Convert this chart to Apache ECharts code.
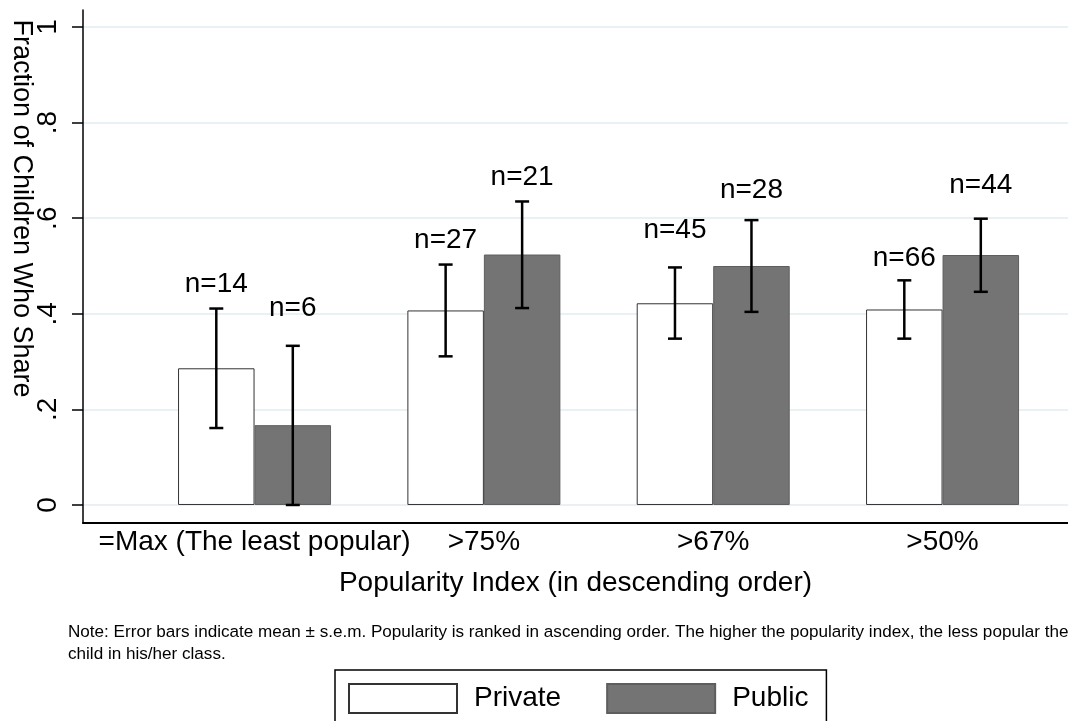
<!DOCTYPE html>
<html>
<head>
<meta charset="utf-8">
<title>Fraction of Children Who Share</title>
<script src="https://cdn.jsdelivr.net/npm/echarts@6/dist/echarts.min.js"></script>
<style>
  html, body { margin: 0; padding: 0; background: #ffffff; }
  #chart { width: 1068px; height: 721px; }
</style>
</head>
<body>
<div id="chart"></div>
<script>
// Popularity groups along the x axis
const categories = ['=Max (The least popular)', '>75%', '>67%', '>50%'];
const groupPos = [1, 2, 3, 4];

// Private school: mean share and mean ± s.e.m.
const privateMean = [0.286, 0.407, 0.422, 0.409];
const privateLow  = [0.161, 0.311, 0.348, 0.348];
const privateHigh = [0.411, 0.503, 0.497, 0.470];
const privateN    = [14, 27, 45, 66];

// Public school: mean share and mean ± s.e.m.
const publicMean = [0.167, 0.524, 0.500, 0.523];
const publicLow  = [0.000, 0.412, 0.404, 0.446];
const publicHigh = [0.333, 0.635, 0.596, 0.599];
const publicN    = [6, 21, 28, 44];

// Y axis ticks
const yTickValues = [0, 0.2, 0.4, 0.6, 0.8, 1];
const yTickLabels = ['0', '.2', '.4', '.6', '.8', '1'];

const noteText = 'Note: Error bars indicate mean \u00b1 s.e.m. Popularity is ranked in ascending order. The higher the popularity index, the less popular the\nchild in his/her class.';

const FONT = "'Liberation Sans', Arial, Helvetica, sans-serif";
const BAR_W = 76.5;
// extra lift (px) for the sample-size labels that sit higher above their caps
const privateLabelLift = [0, 0, 13, -2];
const publicLabelLift  = [14, 0, 6, 9];

function pairs(xs, ys) { return xs.map((x, i) => [x, ys[i]]); }
function errRows(xs, lo, hi, n) { return xs.map((x, i) => [x, lo[i], hi[i], n[i]]); }

function errorBarRenderer(offset, lift) {
  return function (params, api) {
    const x = api.value(0);
    const top = api.coord([x, api.value(2)]);
    const bot = api.coord([x, api.value(1)]);
    const cx = top[0] + offset;
    const cap = 7;
    const line = { stroke: '#000000', lineWidth: 2.5 };
    return {
      type: 'group',
      children: [
        { type: 'line', shape: { x1: cx, y1: top[1], x2: cx, y2: bot[1] }, style: line },
        { type: 'line', shape: { x1: cx - cap, y1: top[1], x2: cx + cap, y2: top[1] }, style: line },
        { type: 'line', shape: { x1: cx - cap, y1: bot[1], x2: cx + cap, y2: bot[1] }, style: line },
        {
          type: 'text',
          style: {
            text: 'n=' + api.value(3),
            x: cx, y: top[1] - 10 - lift[params.dataIndex],
            align: 'center', verticalAlign: 'bottom',
            fontSize: 28, fontFamily: FONT, fill: '#000000'
          }
        }
      ]
    };
  };
}

const chart = echarts.init(document.getElementById('chart'), null, { renderer: 'canvas' });

chart.setOption({
  backgroundColor: '#ffffff',
  animation: false,
  textStyle: { fontFamily: FONT },
  title: {
    text: noteText,
    left: 63, top: 616,
    textStyle: { fontSize: 17.1, fontWeight: 'normal', color: '#000000', lineHeight: 22, fontFamily: FONT }
  },
  legend: {
    left: 335, top: 670,
    orient: 'horizontal',
    icon: 'rect',
    itemWidth: 108, itemHeight: 29,
    itemGap: 45,
    padding: [13, 18, 24, 13],
    borderColor: '#000000', borderWidth: 1.5,
    textStyle: { fontSize: 28, color: '#000000', fontFamily: FONT, padding: [0, 0, 0, 12] },
    data: ['Private', 'Public']
  },
  grid: { left: 83, right: 0, top: 10, bottom: 198, containLabel: false, outerBoundsMode: 'none' },
  xAxis: {
    type: 'value',
    min: 0.252, max: 4.547,
    axisLine: { show: true, onZero: false, lineStyle: { color: '#000000', width: 2 } },
    axisTick: { show: false },
    splitLine: { show: false },
    axisLabel: {
      customValues: groupPos,
      formatter: v => categories[Math.round(v) - 1],
      fontSize: 28, color: '#000000', margin: 5, fontFamily: FONT
    },
    name: 'Popularity Index (in descending order)',
    nameLocation: 'middle',
    nameGap: 46,
    nameMoveOverlap: false,
    nameTextStyle: { fontSize: 28, color: '#000000', fontFamily: FONT }
  },
  yAxis: {
    type: 'value',
    min: -0.0377, max: 1.0356,
    axisLine: { show: true, onZero: false, lineStyle: { color: '#000000', width: 1.5 } },
    axisTick: { show: true, customValues: yTickValues, length: 11, lineStyle: { color: '#000000', width: 1.5 } },
    splitLine: { show: true, lineStyle: { color: '#e3edf0', width: 1.5 } },
    axisLabel: {
      customValues: yTickValues,
      formatter: v => yTickLabels[yTickValues.indexOf(Math.round(v * 10) / 10)],
      rotate: 90,
      fontSize: 28, color: '#000000', margin: 21, fontFamily: FONT
    },
    name: 'Fraction of Children Who Share',
    nameLocation: 'middle',
    nameRotate: -90,
    nameGap: 48,
    nameMoveOverlap: false,
    nameTextStyle: { fontSize: 27, color: '#000000', fontFamily: FONT, padding: [0, 116, 0, 0] }
  },
  series: [
    {
      name: 'Private', type: 'bar',
      barWidth: BAR_W, barGap: '0%',
      itemStyle: { color: '#ffffff', borderColor: '#333333', borderWidth: 1 },
      data: pairs(groupPos, privateMean)
    },
    {
      name: 'Public', type: 'bar',
      barWidth: BAR_W, barGap: '0%',
      itemStyle: { color: '#747474', borderColor: '#5e5e5e', borderWidth: 1 },
      data: pairs(groupPos, publicMean)
    },
    {
      name: 'Private s.e.m.', type: 'custom', z: 5,
      renderItem: errorBarRenderer(-BAR_W / 2, privateLabelLift),
      encode: { x: 0, y: [1, 2] },
      data: errRows(groupPos, privateLow, privateHigh, privateN)
    },
    {
      name: 'Public s.e.m.', type: 'custom', z: 5,
      renderItem: errorBarRenderer(BAR_W / 2, publicLabelLift),
      encode: { x: 0, y: [1, 2] },
      data: errRows(groupPos, publicLow, publicHigh, publicN)
    }
  ]
});
</script>
</body>
</html>
